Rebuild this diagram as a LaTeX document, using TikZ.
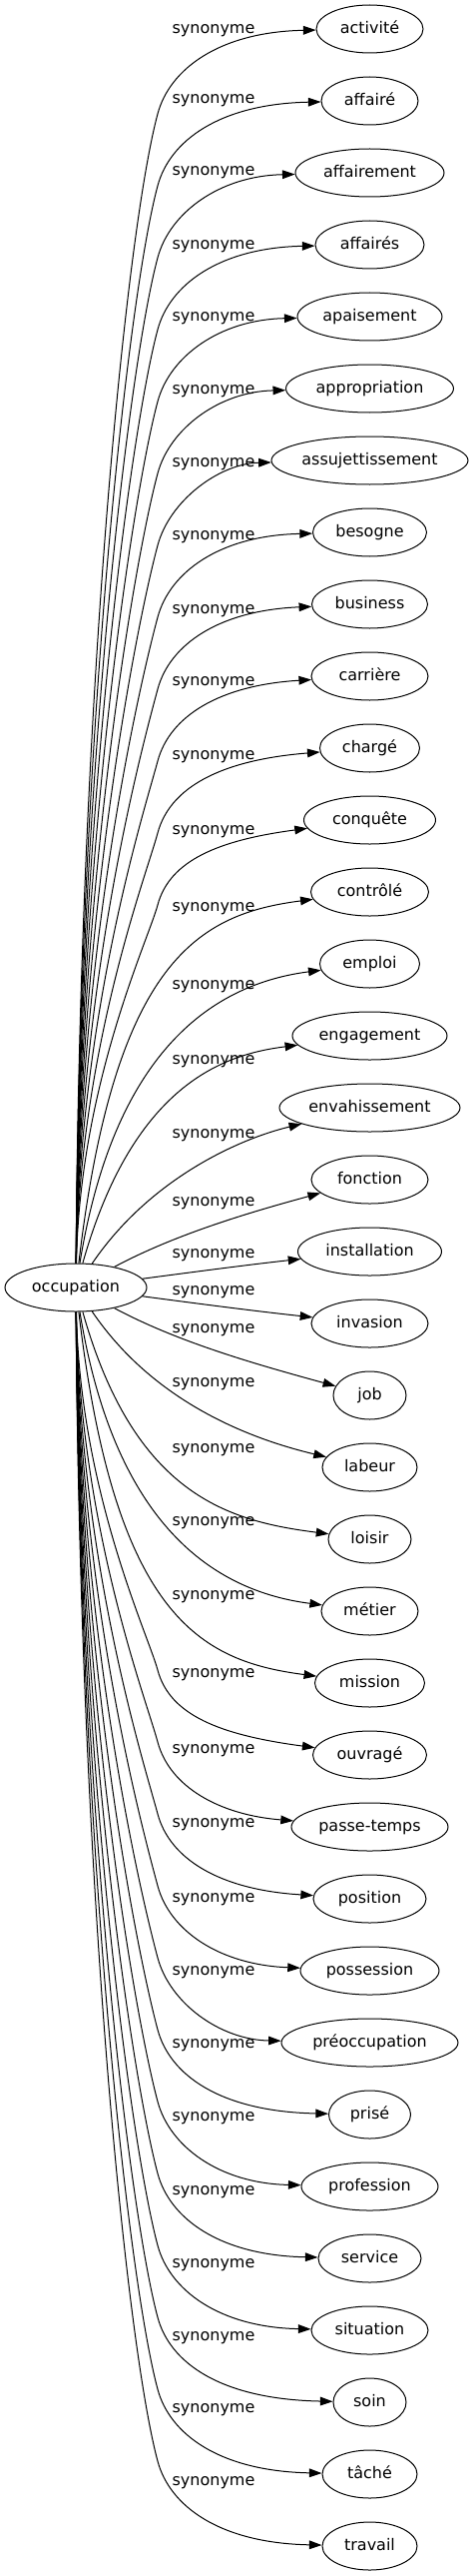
\documentclass[tikz,border=0pt]{standalone}
\usepackage{fontspec}
\setmainfont{DejaVu Sans}
\usetikzlibrary{arrows.meta,shapes.geometric}
\begin{document}
\begin{tikzpicture}[x=0.75pt,y=-0.75pt,
  every node/.style={font=\fontsize{12}{14}\selectfont, text height=9pt, text depth=2pt, inner sep=0pt},
  tn/.style={draw, ellipse, line width=0.75pt, minimum height=36pt},
  lbl/.style={},
  edge/.style={line width=0.75pt, -{Triangle[length=9.5pt,width=6.5pt]}}]
\useasboundingbox (0,0) rectangle (475,2579);
\node[tn, minimum width=106.5pt] (occ) at (76,1289) {\makebox[0pt]{occupation}};
\foreach \txt/\w/\ly [count=\i from 0] in {
  activité/107/31, affairé/97/101, affairement/149/173, affairés/109/247,
  apaisement/145/319, appropriation/168/392, assujettissement/197/465,
  besogne/114/538, business/116/612, carrière/117/684, chargé/100/758,
  conquête/132/833, contrôlé/118/910, emploi/100/988, engagement/155/1063,
  envahissement/181/1137, fonction/117/1205, installation/144/1257,
  invasion/117/1294, job/73/1332, labeur/95/1386, loisir/83/1452,
  métier/97/1525, mission/110/1599, ouvragé/114/1677, passe-temps/157/1753,
  position/113/1827, possession/139/1902, préoccupation/177/1975,
  prisé/82/2048, profession/137/2121, service/103/2195, situation/117/2268,
  soin/73/2341, tâché/95/2413, travail/95/2486}
{
  \pgfmathsetmacro\yt{29+72*\i}
  \node[tn, minimum width=\w*0.75pt] (n\i) at (370.5,\yt) {\makebox[0pt]{\txt}};
  \node[lbl] (l\i) at (214,\ly-2) {synonyme};
  \ifnum\i<18
    \def\s{1}\pgfmathtruncatemacro\k{17-\i}
  \else
    \def\s{-1}\pgfmathtruncatemacro\k{\i-18}
  \fi
  \ifnum\k>5
    \pgfmathsetmacro\yS{1289-(\s)*24}
    \pgfmathsetmacro\yB{\yt+(\s)*85}
    \pgfmathsetmacro\L{(\s)*(\yS-\yB)}
    \pgfmathsetmacro\yCa{(\yS+\yB)/2}
    \pgfmathsetmacro\xCb{158-0.027*\L}
    \pgfmathsetmacro\yCb{\yB+(\s)*0.1*\L}
    \pgfmathsetmacro\g{\k>9 ? 3 : (\k==9 ? 6 : (\k==8 ? 9 : (\k==7 ? 12 : 20)))}
    \pgfmathsetmacro\yCc{\yt+(\s)*40}
    \pgfmathsetmacro\yCd{\yt+(\s)*\g}
    \coordinate (b\i) at (158,\yB);
    \draw[edge] (occ) .. controls (80,\yCa) and (\xCb,\yCb) .. (b\i)
      .. controls (170,\yCc) and (220,\yCd) .. (n\i);
  \else
    \pgfmathsetmacro\xa{{190,177,150,135,115,115}[\k]}
    \pgfmathsetmacro\ya{\yt+(\s)*{21,54,71,43,85,67}[\k]}
    \pgfmathsetmacro\xb{{250,253,240,230,215,200}[\k]}
    \pgfmathsetmacro\yb{\yt+(\s)*{13,32,31,18,20,22}[\k]}
    \draw[edge] (occ) .. controls (\xa,\ya) and (\xb,\yb) .. (n\i);
  \fi
}
\end{tikzpicture}
\end{document}
